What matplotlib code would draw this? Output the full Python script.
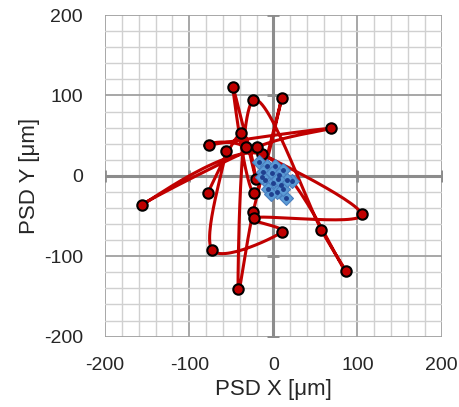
import numpy as np
import matplotlib
matplotlib.use("Agg")
import matplotlib.pyplot as plt
from matplotlib.ticker import MultipleLocator

# red trajectory (PSD position, um), in drawing order
red_x = [-78, -38, -21, -48, -23, 10, -24, -42, -24, 57, 86, -14, -156,
         -19, 68, -77, -32, 105, -23, 10, -73, -56]
red_y = [-21, 53, -4, 110, -21, 97, -45, -141, 94, -67, -119, 27, -36,
         36, 59, 38, 36, -48, -52, -70, -92, 31]

# blue cluster
blue_x = [-17, -8, 2, 12, -12, -2, 7, -10, 0, 9, 22, -6, 4, 15, -3, 11, 16, -14, 5]
blue_y = [17, 12, 12, 7, 5, 4, 1, -5, -9, -12, -7, -16, -20, -28, -22, -16, -5, -2, -4]

ticks = [-200, -100, 0, 100, 200]


def smooth(xs, ys, n=30):
    # Excel-like smoothed line (cubic bezier, tension 1/6)
    p = np.column_stack([xs, ys]).astype(float)
    p = np.vstack([p[0], p, p[-1]])
    out = []
    for i in range(1, len(p) - 2):
        p0, p1, p2, p3 = p[i - 1], p[i], p[i + 1], p[i + 2]
        c1 = p1 + (p2 - p0) / 6
        c2 = p2 - (p3 - p1) / 6
        t = np.linspace(0, 1, n)[:, None]
        seg = ((1 - t) ** 3 * p1 + 3 * (1 - t) ** 2 * t * c1
               + 3 * (1 - t) * t ** 2 * c2 + t ** 3 * p2)
        out.append(seg)
    out = np.vstack(out)
    return out[:, 0], out[:, 1]


plt.rcParams['font.family'] = ['Liberation Sans', 'DejaVu Sans']
plt.rcParams['axes.unicode_minus'] = False

fig = plt.figure(figsize=(4.59, 4.07), dpi=100)
ax = fig.add_axes([0.229, 0.173, 0.733, 0.790])

ax.set_xlim(-200, 200)
ax.set_ylim(-200, 200)
ax.xaxis.set_minor_locator(MultipleLocator(20))
ax.yaxis.set_minor_locator(MultipleLocator(20))
ax.set_xticks(ticks)
ax.set_yticks(ticks)
ax.grid(which='minor', color='#d0d0d0', lw=1.0)
ax.grid(which='major', color='#a0a0a0', lw=1.3)
ax.set_axisbelow(True)
for s in ax.spines.values():
    s.set_visible(False)
ax.tick_params(which='both', length=0, labelsize=14, labelcolor='#262626')
ax.tick_params(axis='x', pad=15)
ax.tick_params(axis='y', pad=16)

# axes crossing at zero
ax.axhline(0, color='#8c8c8c', lw=2.2, zorder=1)
ax.axvline(0, color='#8c8c8c', lw=2.2, zorder=1)
ax.plot(ticks, [0] * 5, ls='none', marker='|', ms=8, mew=2, color='#8c8c8c', zorder=1)
ax.plot([0] * 5, ticks, ls='none', marker='_', ms=8, mew=2, color='#8c8c8c', zorder=1)

sx, sy = smooth(red_x, red_y)
ax.plot(sx, sy, color='#C00000', lw=2.2, zorder=2, solid_capstyle='round')
ax.plot(red_x, red_y, ls='none', marker='o', ms=7.5, mfc='#C00000',
        mec='black', mew=1.5, zorder=3)

ax.plot(blue_x, blue_y, color='#1F3F8F', lw=1.2, zorder=4)
ax.plot(blue_x, blue_y, ls='none', marker='D', ms=7, mfc='#5B9BD5',
        mec='#4A7FC0', mew=0.8, zorder=5)
ax.plot(blue_x, blue_y, ls='none', marker='o', ms=2.5, color='#1F3F8F', zorder=6)

ax.set_xlabel('PSD X [μm]', fontsize=16, color='#262626', labelpad=3)
ax.set_ylabel('PSD Y [μm]', fontsize=16, color='#262626', labelpad=3)

fig.savefig('out.png', dpi=100)
